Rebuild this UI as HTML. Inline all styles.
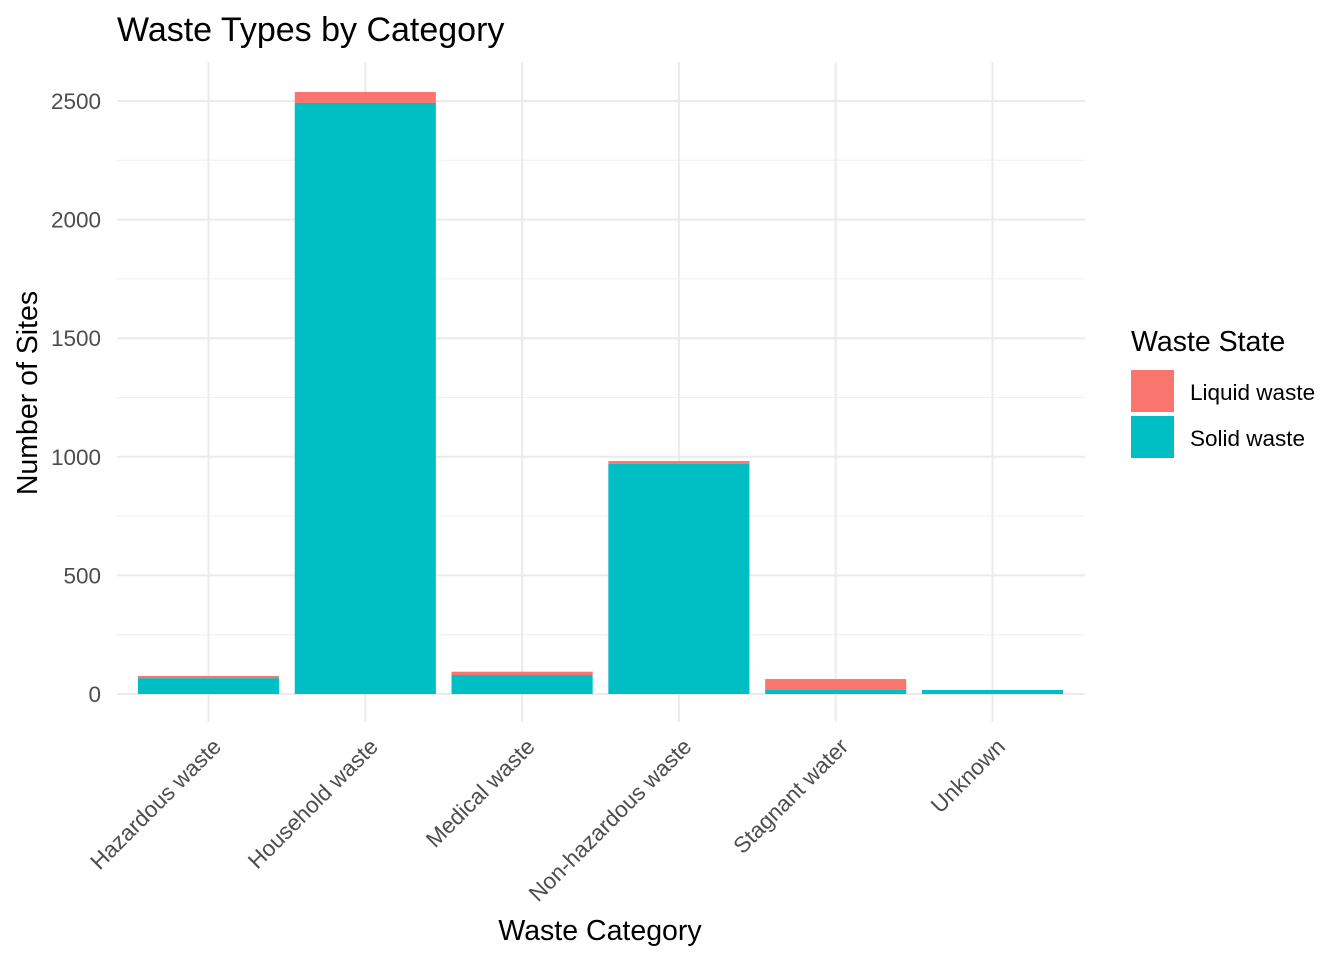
<!DOCTYPE html>
<html><head><meta charset="utf-8"><style>
body{margin:0;background:#fff;}
svg{font-family:"Liberation Sans",Arial,sans-serif;}
</style></head><body>
<svg id="chart" width="1344" height="960" xmlns="http://www.w3.org/2000/svg">
<text x="117" y="41" font-size="34" fill="#000">Waste Types by Category</text>
<g id="grid"></g><g id="bars"></g><g id="xlabels"></g><g id="ylabels"></g>
<text x="600" y="940" font-size="28.5" text-anchor="middle" fill="#000">Waste Category</text>
<text transform="translate(37,393) rotate(-90)" font-size="28.5" text-anchor="middle" fill="#000">Number of Sites</text>
<g>
<text x="1131" y="351" font-size="28.5" fill="#000">Waste State</text>
<rect x="1131" y="370" width="43" height="42" fill="#F8766D"/>
<text x="1190" y="400" font-size="22.5" fill="#000">Liquid waste</text>
<rect x="1131" y="416" width="43" height="42" fill="#00BFC4"/>
<text x="1190" y="446" font-size="22.5" fill="#000">Solid waste</text>
</g>
</svg>
<script>
const categories=["Hazardous waste","Household waste","Medical waste","Non-hazardous waste","Stagnant water","Unknown"];
const solid=[67,2492,80,970,17,17];
const liquid=[9,46,14,12,46,0];
const yTicks=[0,500,1000,1500,2000,2500];
const NS="http://www.w3.org/2000/svg";
const x0=117,x1=1085,y0=694,pxPer=593/2500;
const step=156.8;
const bw=step*0.9;
function xc(i){return 208.5+step*i;}
function y(v){return y0-v*pxPer;}
function mk(tag,attrs,parent){const e=document.createElementNS(NS,tag);for(const k in attrs)e.setAttribute(k,attrs[k]);parent.appendChild(e);return e;}
const grid=document.getElementById('grid'),bars=document.getElementById('bars'),xl=document.getElementById('xlabels'),yl=document.getElementById('ylabels');
for(let v=250;v<=2750;v+=500){if(y(v)<62)break;const l=mk('line',{x1:x0,x2:x1,y1:y(v),y2:y(v),stroke:'#f0f0f0','stroke-width':1},grid);

}
yTicks.forEach(v=>{const l=mk('line',{x1:x0,x2:x1,y1:y(v),y2:y(v),stroke:'#ebebeb','stroke-width':2},grid);


const t=mk('text',{x:101,y:y(v)+8,'font-size':22.5,'text-anchor':'end',fill:'#4d4d4d'},yl);t.textContent=v;

});
categories.forEach((c,i)=>{const l=mk('line',{x1:xc(i),x2:xc(i),y1:62,y2:722,stroke:'#ebebeb','stroke-width':2},grid);


const s=mk('rect',{x:xc(i)-bw/2,y:y(solid[i]),width:bw,height:solid[i]*pxPer,fill:'#00BFC4'},bars);


if(liquid[i]>0){const r=mk('rect',{x:xc(i)-bw/2,y:y(solid[i]+liquid[i]),width:bw,height:liquid[i]*pxPer,fill:'#F8766D'},bars);

}
const t=mk('text',{transform:`translate(${xc(i)+14},${748}) rotate(-45)`,'font-size':22.5,'text-anchor':'end',fill:'#4d4d4d'},xl);t.textContent=c;

});
</script>
</body></html>
